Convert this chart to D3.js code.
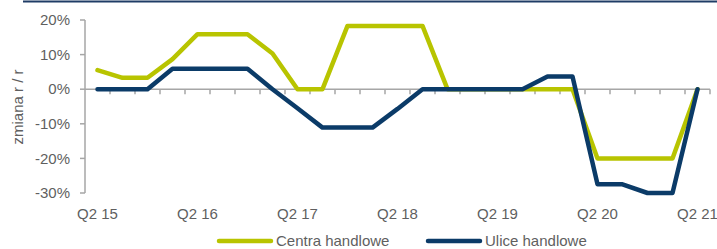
<!DOCTYPE html>
<html>
<head>
<meta charset="utf-8">
<script src="https://cdn.jsdelivr.net/npm/d3@7"></script>
<style>
  html, body { margin: 0; padding: 0; background: #fff; }
  svg { display: block; font-family: 'Liberation Sans', Arial, sans-serif; }
</style>
</head>
<body>
<div id="chart"></div>
<script>
// Quarters Q2 15 .. Q2 21
const quarters = ['Q2 15','Q3 15','Q4 15','Q1 16','Q2 16','Q3 16','Q4 16','Q1 17','Q2 17','Q3 17','Q4 17','Q1 18',
  'Q2 18','Q3 18','Q4 18','Q1 19','Q2 19','Q3 19','Q4 19','Q1 20','Q2 20','Q3 20','Q4 20','Q1 21','Q2 21'];
const tickLabels = ['Q2 15','Q2 16','Q2 17','Q2 18','Q2 19','Q2 20','Q2 21'];
const centraHandlowe = [5.5, 3.3, 3.3, 8.7, 15.9, 15.9, 15.9, 10.3, 0, 0, 18.3, 18.3,
  18.3, 18.3, 0, 0, 0, 0, 0, 0, -20, -20, -20, -20, 0];
const uliceHandlowe = [0, 0, 0, 5.9, 5.9, 5.9, 5.9, 0, -5.5, -11.1, -11.1, -11.1,
  -5.7, 0, 0, 0, 0, 0, 3.7, 3.7, -27.5, -27.5, -30, -30, 0];
const yTicks = [20, 10, 0, -10, -20, -30];

const series = [
  { name: 'Centra handlowe', values: centraHandlowe, color: '#B8C400' },
  { name: 'Ulice handlowe', values: uliceHandlowe, color: '#0B3B68' },
];

const W = 717, H = 249;
const svg = d3.select('#chart').append('svg').attr('width', W).attr('height', H);

// top rule
svg.append('line')
  .attr('x1', 23).attr('x2', W).attr('y1', 1.5).attr('y2', 1.5)
  .attr('stroke', '#1F3C66').attr('stroke-width', 2);

const x = d3.scaleBand().domain(quarters).range([85, 710]);
const y = d3.scaleLinear().domain([-30, 20]).range([193, 20]);
const cx = d => x(d) + x.bandwidth() / 2;

const axisColor = '#A6A6A6';
const textColor = '#5F5F5F';
const fs = '15px';

// Y axis
svg.append('line')
  .attr('x1', 85).attr('x2', 85).attr('y1', y(20)).attr('y2', y(-30))
  .attr('stroke', axisColor).attr('stroke-width', 1.5);
yTicks.forEach(t => {
  svg.append('line')
    .attr('x1', 80).attr('x2', 85).attr('y1', y(t)).attr('y2', y(t))
    .attr('stroke', axisColor).attr('stroke-width', 1.5);
  svg.append('text')
    .attr('x', 70).attr('y', y(t)).attr('dy', '0.35em')
    .attr('text-anchor', 'end')
    .attr('fill', textColor)
    .style('font-size', fs)
    .text(t + '%');
});

// zero axis with ticks at band boundaries
svg.append('line')
  .attr('x1', 85).attr('x2', 710).attr('y1', y(0)).attr('y2', y(0))
  .attr('stroke', axisColor).attr('stroke-width', 1.5);
quarters.forEach(q => {
  svg.append('line')
    .attr('x1', x(q) + x.bandwidth()).attr('x2', x(q) + x.bandwidth())
    .attr('y1', y(0)).attr('y2', y(0) + 5)
    .attr('stroke', axisColor).attr('stroke-width', 1.5);
});

// x labels
tickLabels.forEach(l => {
  svg.append('text')
    .attr('x', cx(l)).attr('y', 219)
    .attr('text-anchor', 'middle')
    .attr('fill', textColor)
    .style('font-size', fs)
    .text(l);
});

// y title
svg.append('text')
  .attr('transform', 'translate(23,107) rotate(-90)')
  .attr('text-anchor', 'middle')
  .attr('fill', textColor)
  .style('font-size', fs)
  .text('zmiana r / r');

// lines
const line = d3.line().x((d, i) => cx(quarters[i])).y(d => y(d));
series.forEach(s => {
  svg.append('path')
    .datum(s.values)
    .attr('d', line)
    .attr('fill', 'none')
    .attr('stroke', s.color)
    .attr('stroke-width', 4.5)
    .attr('stroke-linejoin', 'round')
    .attr('stroke-linecap', 'round');
});

// legend
const legendX = [219, 428];
series.forEach((s, i) => {
  svg.append('line')
    .attr('x1', legendX[i]).attr('x2', legendX[i] + 52)
    .attr('y1', 241).attr('y2', 241)
    .attr('stroke', s.color).attr('stroke-width', 4.5)
    .attr('stroke-linecap', 'round');
  svg.append('text')
    .attr('x', legendX[i] + 57).attr('y', 241).attr('dy', '0.35em')
    .attr('fill', textColor)
    .style('font-size', fs)
    .text(s.name);
});
</script>
</body>
</html>
